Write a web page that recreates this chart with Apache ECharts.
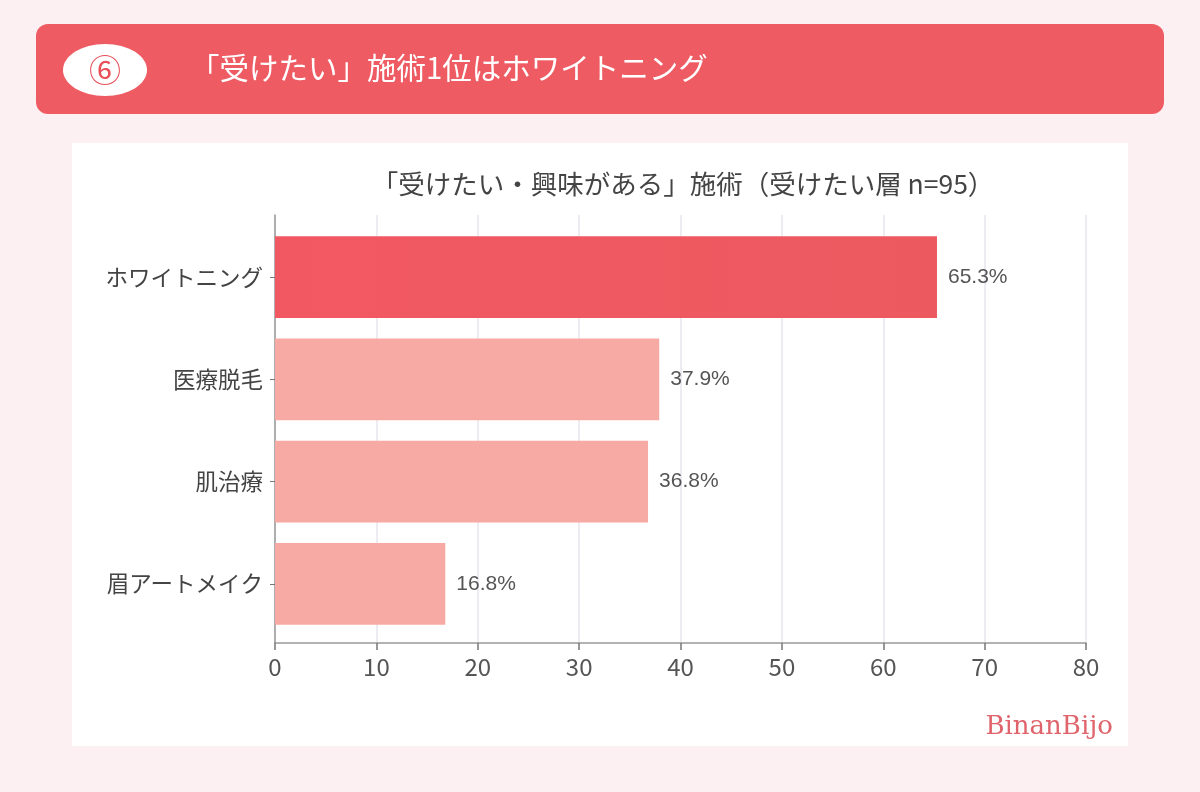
<!DOCTYPE html>
<html>
<head>
<meta charset="utf-8">
<script src="https://cdn.jsdelivr.net/npm/echarts@6/dist/echarts.min.js"></script>
<style>
  html, body { margin: 0; padding: 0; background: #fcf0f2; }
  #main { width: 1200px; height: 792px; }
</style>
</head>
<body>
<div id="main"></div>
<script>
// data
var categories = ["ホワイトニング", "医療脱毛", "肌治療", "眉アートメイク"];
var values = [65.3, 37.9, 36.8, 16.8];
var xTicks = [0, 10, 20, 30, 40, 50, 60, 70, 80];

var font = "'Noto Sans CJK JP', 'Noto Sans', sans-serif";

var myChart = echarts.init(document.getElementById("main"), null, {
  width: 1200,
  height: 792
});

var option = {
  backgroundColor: "#fcf0f2",
  textStyle: { fontFamily: font },
  graphic: [
    // header banner
    {
      type: "rect",
      shape: { x: 36, y: 24, width: 1128, height: 90, r: 12 },
      style: { fill: "#ee5b63" },
      z: -10
    },
    {
      type: "ellipse",
      shape: { cx: 105, cy: 70, rx: 42, ry: 26 },
      style: { fill: "#ffffff" },
      z: -9
    },
    {
      type: "text",
      x: 105, y: 70,
      style: {
        text: "⑥", fill: "#e8505a", font: "32px " + font,
        align: "center", verticalAlign: "middle"
      },
      z: -8
    },
    {
      type: "text",
      x: 190, y: 68,
      style: {
        text: "「受けたい」施術1位はホワイトニング", fill: "#ffffff",
        font: "29.5px " + font, verticalAlign: "middle"
      },
      z: -8
    },
    // white chart panel
    {
      type: "rect",
      shape: { x: 72, y: 143, width: 1056, height: 603 },
      style: { fill: "#ffffff" },
      z: -10
    },
    {
      type: "text",
      x: 1113, y: 727,
      style: {
        text: "BinanBijo", fill: "#e0646c",
        font: "26px 'DejaVu Serif', serif",
        align: "right", verticalAlign: "middle"
      },
      z: 5
    }
  ],
  title: {
    text: "「受けたい・興味がある」施術（受けたい層 n=95）",
    left: 678,
    top: 166,
    textAlign: "center",
    textStyle: { color: "#444", fontSize: 26.5, fontWeight: "normal", fontFamily: font }
  },
  // grid 0 carries the frame (x axis, gridlines, y axis line); grid 1 carries the bars
  grid: [
    { left: 275, right: 114, top: 215, bottom: 149 },
    { left: 275, right: 114, top: 226, bottom: 157 }
  ],
  xAxis: [
    {
      type: "value",
      gridIndex: 0,
      min: 0,
      max: 80,
      interval: 10,
      axisLine: { show: true, lineStyle: { color: "#999", width: 1.5 } },
      axisTick: { show: true, length: 7, lineStyle: { color: "#777", width: 1.5 } },
      axisLabel: {
        color: "#555", fontSize: 24, margin: 12, fontFamily: font,
        formatter: function (v) { return xTicks.indexOf(v) >= 0 ? String(v) : ""; }
      },
      splitLine: { show: true, lineStyle: { color: "#e8e6ee", width: 1.5 } }
    },
    {
      type: "value",
      gridIndex: 1,
      min: 0,
      max: 80,
      show: false
    }
  ],
  yAxis: [
    {
      type: "value",
      gridIndex: 0,
      axisLine: { show: true, lineStyle: { color: "#999", width: 1.5 } },
      axisTick: { show: false },
      axisLabel: { show: false },
      splitLine: { show: false }
    },
    {
      type: "category",
      gridIndex: 1,
      data: categories,
      inverse: true,
      axisLine: { show: false },
      axisTick: { show: true, alignWithLabel: true, length: 5, lineStyle: { color: "#777" } },
      axisLabel: { color: "#444", fontSize: 22.5, margin: 12, fontFamily: font }
    }
  ],
  series: [
    {
      type: "bar",
      xAxisIndex: 1,
      yAxisIndex: 1,
      data: values.map(function (v, i) {
        return {
          value: v,
          itemStyle: {
            color: i === 0
              ? new echarts.graphic.LinearGradient(0, 0, 1, 0, [
                  { offset: 0, color: "#f25862" },
                  { offset: 1, color: "#ec5a60" }
                ])
              : "#f7aaa4"
          }
        };
      }),
      barCategoryGap: "20%",
      label: {
        show: true,
        position: "right",
        distance: 11,
        color: "#555",
        fontSize: 21,
        fontFamily: "'Liberation Sans', Arial, sans-serif",
        formatter: function (p) { return p.value.toFixed(1) + "%"; }
      },
      animation: false
    }
  ]
};

myChart.setOption(option);
</script>
</body>
</html>
